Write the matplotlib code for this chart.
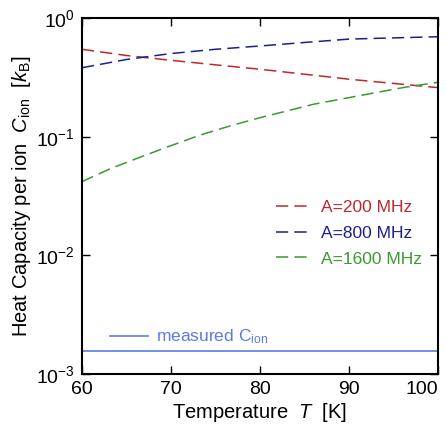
import matplotlib
matplotlib.use("Agg")
import matplotlib.pyplot as plt
from matplotlib.ticker import LogLocator, NullLocator

plt.rcParams['font.family'] = ['Liberation Sans', 'DejaVu Sans']
plt.rcParams['mathtext.fontset'] = 'custom'
plt.rcParams['mathtext.rm'] = 'Liberation Sans'
plt.rcParams['mathtext.it'] = 'Liberation Sans:italic'

# temperature grid (K)
temps = [60, 65, 70, 75, 80, 85, 90, 95, 100]
temps_1600 = [60, 63.1, 66.5, 69.9, 73.3, 76.6, 80, 86, 93, 96.3, 100]

# heat capacity per ion (k_B)
c_200 = [0.545, 0.483, 0.440, 0.403, 0.370, 0.336, 0.305, 0.281, 0.259]
c_800 = [0.381, 0.447, 0.502, 0.545, 0.581, 0.622, 0.664, 0.680, 0.695]
c_1600 = [0.0418, 0.0534, 0.067, 0.0835, 0.1033, 0.123, 0.1445, 0.1875,
          0.235, 0.261, 0.287]
c_measured = 0.00157

labels = ['A=200 MHz', 'A=800 MHz', 'A=1600 MHz']
colors = ['#c0272d', '#1f1f8c', '#3a9a2f']
meas_color = '#5b7be6'

fig = plt.figure(figsize=(4.46, 4.32), dpi=100)
ax = fig.add_axes([82 / 446, 1 - 374 / 432, 356 / 446, 356 / 432])

lines = []
for xs, ys, lab, col in zip([temps, temps, temps_1600], [c_200, c_800, c_1600],
                            labels, colors):
    ln, = ax.plot(xs, ys, color=col, lw=1.1, dashes=(8, 4), label=lab)
    lines.append(ln)
meas, = ax.plot([temps[0], temps[-1]], [c_measured, c_measured], color=meas_color,
                lw=1.2, label='measured C$_{\\rm ion}$')

ax.set_yscale('log')
ax.set_xlim(60, 100)
ax.set_ylim(1e-3, 1)
ax.set_xticks([60, 70, 80, 90, 100])
ax.yaxis.set_major_locator(LogLocator(base=10, numticks=10))
ax.yaxis.set_minor_locator(NullLocator())
ax.tick_params(direction='in', length=6, width=1, top=True, right=True,
               labelsize=14, pad=5)
for s in ax.spines.values():
    s.set_linewidth(1.5)
# keep the last x label inside the figure, as in the original
fig.canvas.draw()
ax.get_xticklabels()[-1].set_horizontalalignment('right')

ax.set_xlabel('Temperature  $\\it{T}$  [K]', fontsize=14.5, labelpad=2)
ax.set_ylabel('Heat Capacity per ion  $\\it{C}_{\\rm ion}$  [$\\it{k}_{\\rm B}$]',
              fontsize=14.5, labelpad=2)

leg1 = ax.legend(handles=lines, loc='upper left', bbox_to_anchor=(0.545, 0.49),
                 frameon=False, fontsize=12.5, handlelength=2.1, handletextpad=0.5,
                 labelspacing=0.62, borderpad=0, borderaxespad=0)
for t, col in zip(leg1.get_texts(), colors):
    t.set_color(col)
ax.add_artist(leg1)

leg2 = ax.legend(handles=[meas], loc='upper left', bbox_to_anchor=(0.079, 0.13),
                 frameon=False, fontsize=12.5, handlelength=2.2, handletextpad=0.45,
                 borderpad=0, borderaxespad=0)
leg2.get_texts()[0].set_color(meas_color)

fig.savefig('out.png', dpi=100)
